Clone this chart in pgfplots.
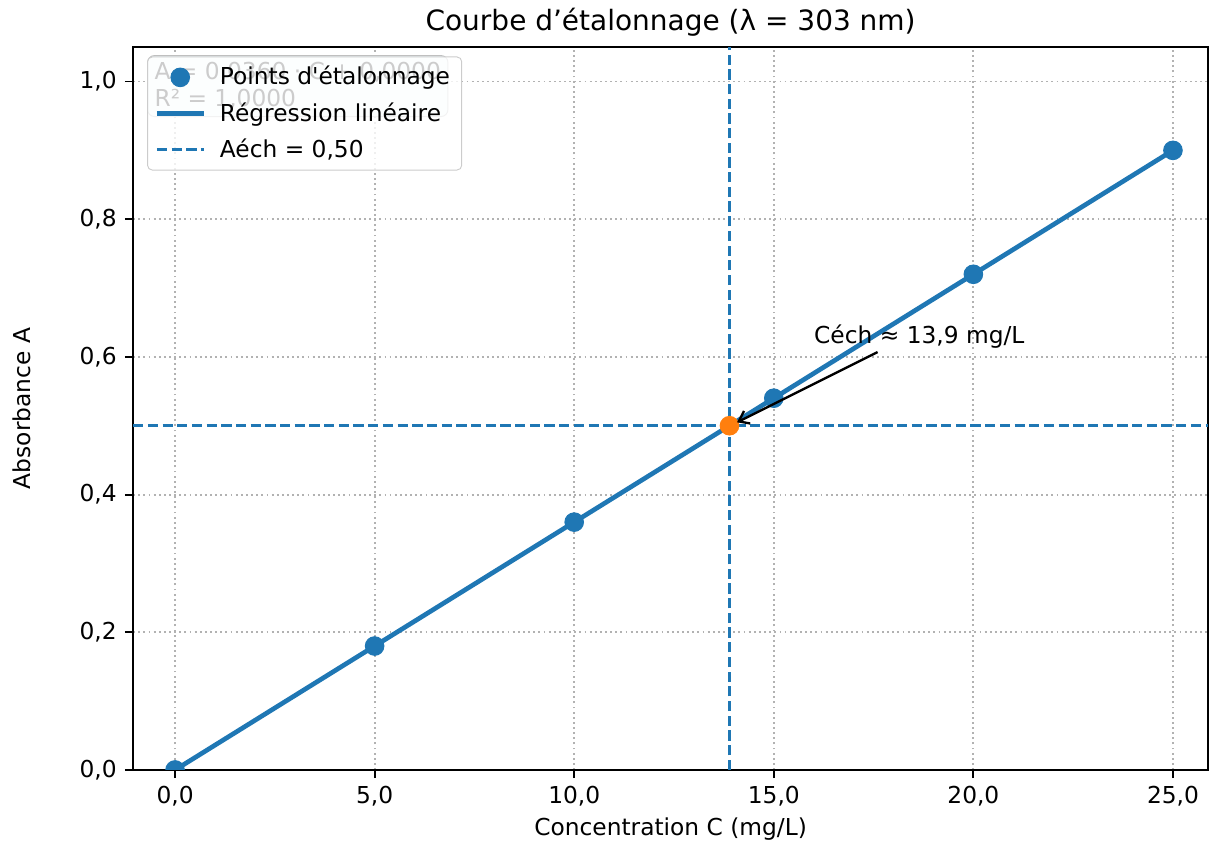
\documentclass[border=0pt]{standalone}
\usepackage{pgfplots}
\pgfplotsset{compat=1.18}
\usepackage{fontspec}
\setmainfont{DejaVu Sans}
\usetikzlibrary{arrows.meta}
\definecolor{tabblue}{HTML}{1F77B4}
\definecolor{taborange}{HTML}{FF7F0E}

\begin{document}
\begin{tikzpicture}
\begin{axis}[
    name=ax,
    scale only axis,
    width=461pt, height=310pt,
    xmin=-1.05, xmax=25.88,
    ymin=0, ymax=1.05,
    xtick={0,5,10,15,20,25},
    ytick={0,0.2,0.4,0.6,0.8,1.0},
    tick align=outside,
    tick pos=left,
    major tick length=3.5pt,
    tick style={black, line width=0.8pt},
    axis line style={line width=0.8pt},
    /pgf/number format/.cd, fixed, fixed zerofill, precision=1, use comma, assume math mode=true,
    /pgfplots/.cd,
    ticklabel style={font=\fontsize{10}{12}\selectfont},
    grid=major,
    grid style={black!30, line width=0.8pt, dash pattern=on 0.8pt off 1.4pt},
    xlabel={Concentration C (mg/L)},
    ylabel={Absorbance A},
    label style={font=\fontsize{10}{12}\selectfont},
    xlabel shift=-2pt,
    ylabel shift=14pt,
    clip marker paths=true,
    legend style={
      at={(0.013,0.987)}, anchor=north west,
      draw=black!20, fill=white, fill opacity=0.8, text opacity=1,
      rounded corners=2pt,
      font=\fontsize{10}{12}\selectfont,
      row sep=2pt,
    },
    legend cell align=left,
  ]

  % equation box, under the legend
  \node[anchor=north west, draw=black!25, fill=cyan!6, rounded corners=3pt,
        align=left, inner sep=3pt, font=\fontsize{10}{11.6}\selectfont]
    at (rel axis cs:0.013,0.989) {A = 0,0360 · C + 0,0000\\R² = 1,0000};

  \addplot[forget plot, tabblue, line width=1.2pt, dash pattern=on 4.4pt off 1.9pt]
    coordinates {(13.89,0) (13.89,1.05)};
  \addplot[forget plot, tabblue, line width=1.2pt, dash pattern=on 4.4pt off 1.9pt]
    coordinates {(-1.05,0.5) (25.88,0.5)};
  \addplot[forget plot, tabblue, line width=2pt]
    coordinates {(0,0) (25,0.9)};
  \addplot[forget plot, only marks, mark=*, mark size=4pt, tabblue]
    coordinates {(0,0) (5,0.18) (10,0.36) (15,0.54) (20,0.72) (25,0.9)};
  \addplot[forget plot, only marks, mark=*, mark size=4pt, taborange]
    coordinates {(13.89,0.5)};

  \draw[-{Straight Barb[length=4pt,width=6pt]}, line width=1pt]
    (axis cs:17.6,0.607) -- (axis cs:14.08,0.505);
  \node[anchor=base west, inner sep=0pt, font=\fontsize{10}{12}\selectfont]
    at (axis cs:16,0.62) {Céch ≈ 13,9 mg/L};

  \addlegendimage{legend image code/.code={\path[draw=none, fill=none] (0,0) -- (25pt,0); \fill[tabblue, fill opacity=1] (10pt,0) circle (4pt);}}
  \addlegendentry{Points d\textquotesingle étalonnage}
  \addlegendimage{legend image code/.code={\path[draw=none, fill=none] (0,0) -- (25pt,0); \draw[tabblue, draw opacity=1, line width=2pt] (0pt,0) -- (20pt,0);}}
  \addlegendentry{Régression linéaire}
  \addlegendimage{legend image code/.code={\path[draw=none, fill=none] (0,0) -- (25pt,0); \draw[tabblue, draw opacity=1, line width=1.2pt, dash pattern=on 4.4pt off 1.9pt] (0pt,0) -- (20pt,0);}}
  \addlegendentry{Aéch = 0,50}
\end{axis}
\node[anchor=base, inner sep=0pt, font=\fontsize{12}{14}\selectfont]
  at ([yshift=7.3pt]ax.north) {Courbe d’étalonnage (λ = 303 nm)};
\pgfresetboundingbox
\path ([shift={(-57.1pt,-31.3pt)}]ax.south west) rectangle ([shift={(0.4pt,20.2pt)}]ax.north east);
\end{tikzpicture}
\end{document}
